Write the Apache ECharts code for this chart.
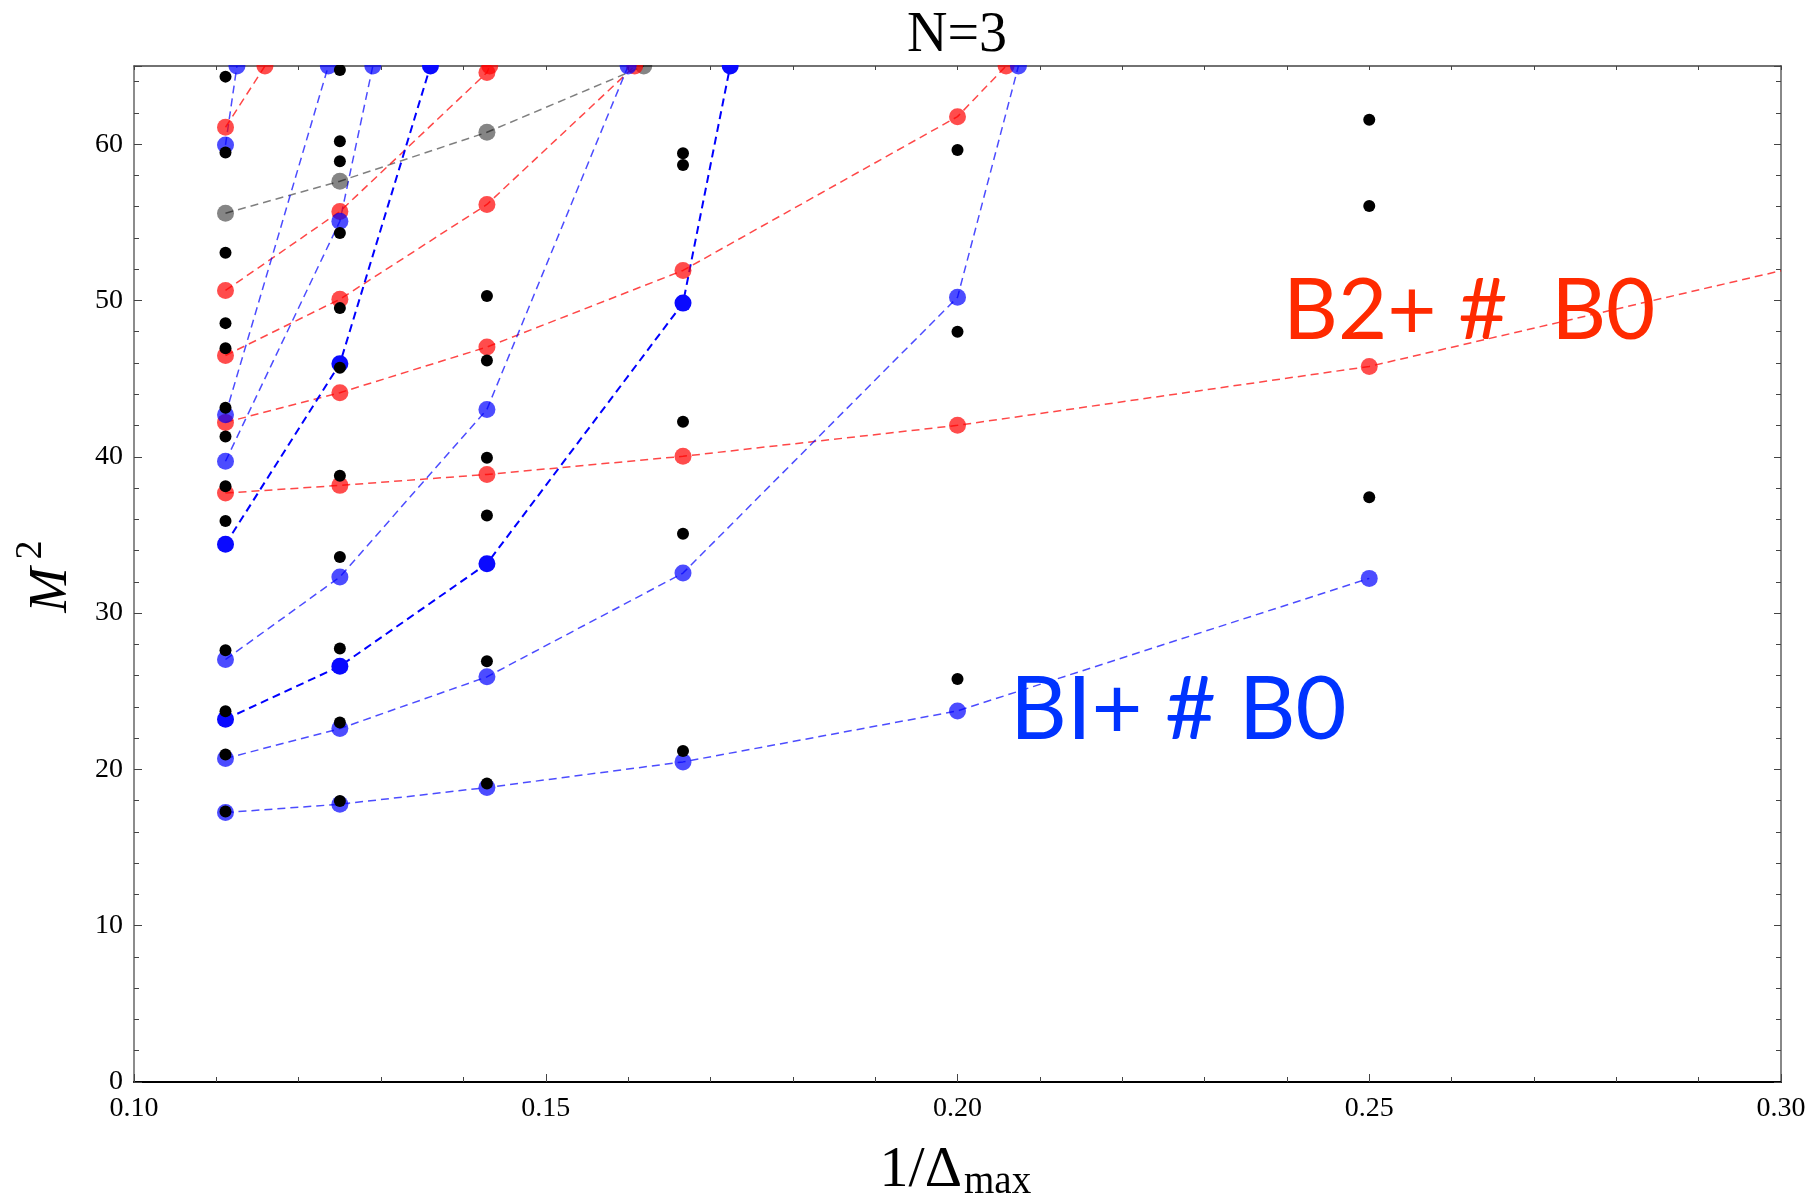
<!DOCTYPE html>
<html>
<head>
<meta charset="utf-8">
<title>N=3</title>
<script src="https://cdn.jsdelivr.net/npm/echarts@6/dist/echarts.min.js"></script>
<style>
  html, body { margin: 0; padding: 0; background: #fff; }
  #chart { width: 1812px; height: 1201px; }
</style>
</head>
<body>
<div id="chart"></div>
<script>
// Truncation levels 1/Δmax = 1/9 ... 1/4
const invDelta = [1 / 9, 1 / 8, 1 / 7, 1 / 6, 1 / 5, 1 / 4];

// Upper edge of the M^2 window
const m2Top = 65;

// Tracked blue levels (B1+ # B0 family), values of M^2 from 1/9 onward
const blueTrack1 = [17.24, 17.77, 18.84, 20.48, 23.74, 32.22];
const blueTrack2 = [20.70, 22.61, 25.92, 32.56, 50.20];
const blueDarkTrack1 = [23.21, 26.60, 33.16, 49.83];
const blueTrack3 = [27.03, 32.31, 43.03];
const blueDarkTrack2 = [34.40, 45.95];
const blueTrack4 = [39.71, 55.07];
const blueTrack5 = [42.69];
const blueTrack6 = [59.95];
// 1/Δmax where each blue track leaves the window at M^2 = 65 (null: stays inside)
const blueExitX = [null, 0.2074, 0.1724, 0.1600, 0.1360, 0.1290, 0.1236, 0.1125];

// Tracked red levels (B2+ # B0 family)
const redTrack1 = [37.68, 38.17, 38.87, 40.03, 42.01, 45.78];
const redTrack2 = [42.20, 44.10, 47.02, 51.92, 61.76];
const redTrack3 = [46.48, 50.08, 56.14];
const redTrack4 = [50.64, 55.69, 64.58];
const redTrack5 = [61.08];
const redExitX = [null, 0.2059, 0.1608, 0.1432, 0.1159];
// where the lowest red track meets the right edge
const redTrack1Edge = [0.30, 51.9];

// Gray track
const grayTrack = [55.58, 57.63, 60.76];
const grayExitX = 0.1619;

// Full spectrum (black) at each truncation level
const black9 = [17.30, 20.95, 23.72, 27.62, 35.89, 38.11, 41.30, 43.14, 46.95, 48.55, 53.05, 59.46, 64.32];
const black8 = [17.97, 23.00, 27.73, 33.59, 38.79, 45.69, 49.51, 54.31, 58.91, 60.19, 64.75];
const black7 = [19.10, 26.92, 36.25, 39.94, 46.16, 50.28];
const black6 = [21.18, 35.08, 42.24, 58.67, 59.42];
const black5 = [25.79, 48.00, 59.62];
const black4 = [37.41, 56.05, 61.56];

const SERIF = "'Liberation Serif', 'Times New Roman', Times, serif";
const SANS = "Lato, 'Open Sans', 'Noto Sans', sans-serif";

const families = {
  red:      { line: 'rgba(255,0,0,0.72)', dot: 'rgba(255,0,0,0.7)', width: 1.5 },
  blue:     { line: 'rgba(0,0,255,0.7)',  dot: 'rgba(0,0,255,0.7)', width: 1.5 },
  blueDark: { line: '#0000ff',            dot: '#0a0aff',           width: 2 },
  gray:     { line: 'rgba(0,0,0,0.5)',    dot: 'rgba(0,0,0,0.48)',  width: 1.5 }
};

function trackPoints(m2, exitX, edge) {
  const pts = m2.map((v, i) => [invDelta[i], v]);
  if (exitX != null) pts.push([exitX, m2Top]);
  if (edge) pts.push({ value: edge, symbol: 'none' });
  return pts;
}

function trackSeries(family, m2, exitX, edge) {
  const f = families[family];
  return {
    type: 'line',
    xAxisIndex: 0,
    yAxisIndex: 0,
    data: trackPoints(m2, exitX, edge),
    clip: true,
    symbol: 'circle',
    symbolSize: 17,
    showSymbol: true,
    showAllSymbol: true,
    lineStyle: { color: f.line, width: f.width, type: [8, 5] },
    itemStyle: { color: f.dot, opacity: 1 },
    emphasis: { disabled: true },
    silent: true,
    z: 2
  };
}

const blueTracks = [blueTrack1, blueTrack2, blueDarkTrack1, blueTrack3, blueDarkTrack2, blueTrack4, blueTrack5, blueTrack6];
const blueFamilies = ['blue', 'blue', 'blueDark', 'blue', 'blueDark', 'blue', 'blue', 'blue'];
const redTracks = [redTrack1, redTrack2, redTrack3, redTrack4, redTrack5];

const series = [];
series.push(trackSeries('gray', grayTrack, grayExitX));
redTracks.forEach((t, i) => series.push(trackSeries('red', t, redExitX[i], i === 0 ? redTrack1Edge : null)));
blueTracks.forEach((t, i) => series.push(trackSeries(blueFamilies[i], t, blueExitX[i])));

const blackColumns = [black9, black8, black7, black6, black5, black4];
const blackData = [];
blackColumns.forEach((col, i) => col.forEach(v => blackData.push([invDelta[i], v])));
series.push({
  type: 'scatter',
  xAxisIndex: 0,
  yAxisIndex: 0,
  data: blackData,
  symbol: 'circle',
  symbolSize: 12,
  itemStyle: { color: '#000', opacity: 1 },
  emphasis: { disabled: true },
  silent: true,
  z: 5
});

const tickColor = '#444';
const chart = echarts.init(document.getElementById('chart'), null, { renderer: 'canvas' });

chart.setOption({
  backgroundColor: '#fff',
  animation: false,
  grid: { left: 134, top: 66, width: 1647, height: 1016, show: false },
  xAxis: [
    {
      type: 'value', position: 'bottom', min: 0.1, max: 0.3, interval: 0.05,
      axisLine: { show: true, onZero: false, lineStyle: { color: '#000', width: 2 } },
      axisTick: { show: true, inside: true, length: 8, lineStyle: { color: tickColor, width: 1 } },
      minorTick: { show: true, splitNumber: 5, length: 5, lineStyle: { color: tickColor, width: 1 } },
      splitLine: { show: false }, minorSplitLine: { show: false },
      axisLabel: { margin: 13, fontFamily: SERIF, fontSize: 28, color: '#000', formatter: v => v.toFixed(2) }
    },
    {
      type: 'value', position: 'top', min: 0.1, max: 0.3, interval: 0.01,
      axisLine: { show: true, onZero: false, lineStyle: { color: '#444', width: 1.5 } },
      axisTick: { show: true, inside: true, length: 4, lineStyle: { color: tickColor, width: 1 } },
      axisLabel: { show: false }, splitLine: { show: false }
    }
  ],
  yAxis: [
    {
      type: 'value', position: 'left', min: 0, max: m2Top, interval: 10,
      axisLine: { show: true, onZero: false, lineStyle: { color: '#666', width: 1.5 } },
      axisTick: { show: true, inside: true, length: 8, lineStyle: { color: tickColor, width: 1 } },
      splitLine: { show: false },
      axisLabel: { margin: 11, fontFamily: SERIF, fontSize: 28, color: '#000',
                   formatter: v => (v % 10 === 0 ? String(v) : '') }
    },
    {
      type: 'value', position: 'left', min: 0, max: m2Top, interval: 2,
      axisLine: { show: false, onZero: false },
      axisTick: { show: true, inside: true, length: 5, lineStyle: { color: tickColor, width: 1 } },
      splitLine: { show: false }, axisLabel: { show: false }
    },
    {
      type: 'value', position: 'right', min: 0, max: m2Top, interval: 10,
      axisLine: { show: true, onZero: false, lineStyle: { color: '#888', width: 2 } },
      axisTick: { show: true, inside: true, length: 7, lineStyle: { color: tickColor, width: 1 } },
      splitLine: { show: false }, axisLabel: { show: false }
    },
    {
      type: 'value', position: 'right', min: 0, max: m2Top, interval: 2,
      axisLine: { show: false, onZero: false },
      axisTick: { show: true, inside: true, length: 5, lineStyle: { color: tickColor, width: 1 } },
      splitLine: { show: false }, axisLabel: { show: false }
    }
  ],
  series: series,
  graphic: {
    elements: [
      // mask above the frame so markers on the upper edge are cut by it
      { type: 'rect', z: 50, silent: true, shape: { x: 0, y: 0, width: 1812, height: 65 }, style: { fill: '#fff' } },
      { type: 'text', z: 60, x: 957, y: 36, silent: true,
        style: { text: 'N=3', font: '56px ' + SERIF, fill: '#000', align: 'center', verticalAlign: 'middle' } },
      { type: 'text', z: 60, x: 962, y: 1171, silent: true,
        style: { text: '1/Δ', font: '58px ' + SERIF, fill: '#000', align: 'right', verticalAlign: 'middle' } },
      { type: 'text', z: 60, x: 964, y: 1183, silent: true,
        style: { text: 'max', font: '39px ' + SERIF, fill: '#000', align: 'left', verticalAlign: 'middle' } },
      { type: 'text', z: 60, x: 52, y: 590, rotation: Math.PI / 2, silent: true,
        style: { text: 'M', font: 'italic 54px ' + SERIF, fill: '#000', align: 'center', verticalAlign: 'middle' } },
      { type: 'text', z: 60, x: 31, y: 550, rotation: Math.PI / 2, silent: true,
        style: { text: '2', font: '38px ' + SERIF, fill: '#000', align: 'center', verticalAlign: 'middle' } },
      { type: 'text', z: 60, x: 1283, y: 312, silent: true,
        style: { text: 'B2+ #  B0', font: '85px ' + SANS, fill: '#ff2a00', align: 'left', verticalAlign: 'middle' } },
      { type: 'text', z: 60, x: 1010, y: 711, silent: true,
        style: { text: 'BI+ # B0', font: '88px ' + SANS, fill: '#0033ff', align: 'left', verticalAlign: 'middle' } }
    ]
  }
});
</script>
</body>
</html>
